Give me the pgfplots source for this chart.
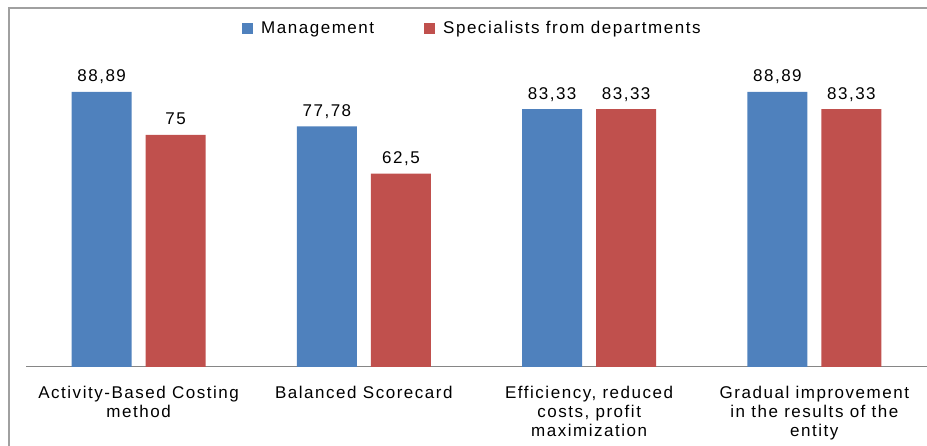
\documentclass[border=0pt]{standalone}
\usepackage{fontspec}
\setmainfont{Liberation Sans}[LetterSpace=9]
\usepackage{pgfplots}
\pgfplotsset{compat=1.18}
\definecolor{mblue}{HTML}{4F81BD}
\definecolor{mred}{HTML}{C0504D}
\definecolor{axgray}{HTML}{868686}
\definecolor{frgray}{HTML}{A0A0A0}
\begin{document}
\begin{tikzpicture}
\useasboundingbox (0pt,0pt) rectangle (927pt,446pt);
\draw[frgray, line width=1.3pt] (9pt,0pt) -- (9pt,438pt) -- (927pt,438pt);
\begin{axis}[
  at={(26pt,79pt)}, anchor=south west,
  scale only axis, width=901pt, height=309.4pt,
  xmin=-0.5, xmax=3.5, ymin=0, ymax=100,
  ybar=14pt, bar width=60pt,
  axis x line=bottom, hide y axis,
  x axis line style={axgray, line width=1pt, -},
  xtick={0,1,2,3},
  major tick length=0pt,
  xticklabels={{Activity-Based Costing\\method},{Balanced Scorecard},{Efficiency, reduced\\costs, profit\\maximization},{Gradual improvement\\in the results of the\\entity}},
  xticklabel style={align=center, font=\fontsize{17}{19}\selectfont, anchor=north, inner sep=0pt, yshift=-19pt},
  nodes near coords,
  /pgf/number format/.cd, use comma, fixed, precision=2, assume math mode=true, /pgfplots/.cd,
  every node near coord/.append style={font=\fontsize{17}{19}\selectfont, anchor=base, inner sep=0pt, yshift=10pt, black},
  legend columns=2,
  legend style={draw=none, fill=none, inner sep=0pt, column sep=0pt,
    at={(axis description cs:0.2397,1.094)}, anchor=west,
    font=\fontsize{17}{19}\selectfont,
    nodes={inner sep=0pt},
    /tikz/every odd column/.append style={column sep=8pt},
    /tikz/every even column/.append style={column sep=50pt}},
  legend image code/.code={\path[#1,draw=none] (0pt,-5.5pt) rectangle (11pt,5.5pt);},
]
\addplot[fill=mblue, draw=none] coordinates {(0,88.89) (1,77.78) (2,83.33) (3,88.89)};
\addplot[fill=mred, draw=none] coordinates {(0,75) (1,62.5) (2,83.33) (3,83.33)};
\legend{Management, Specialists from departments}
\end{axis}
\end{tikzpicture}
\end{document}
